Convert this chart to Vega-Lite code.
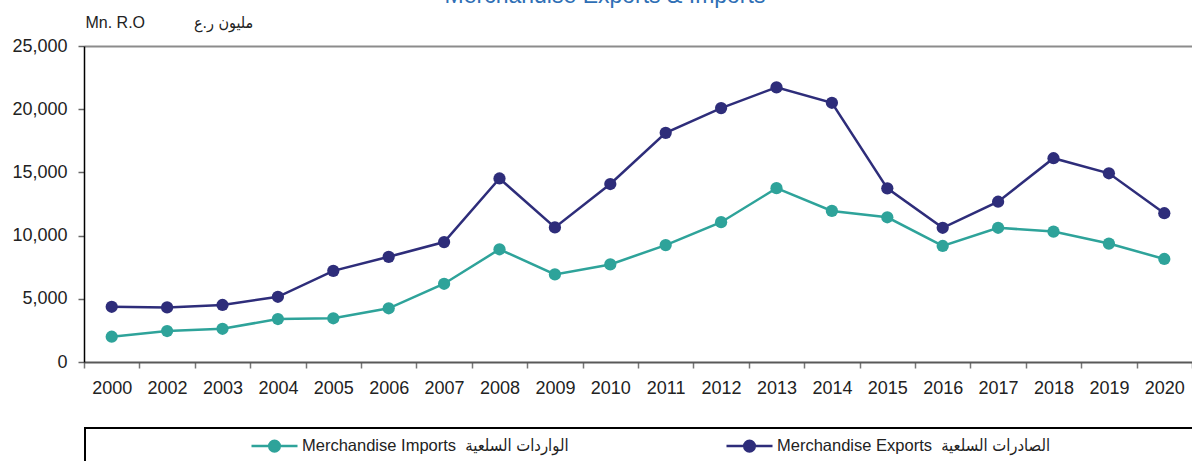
{
  "$schema": "https://vega.github.io/schema/vega-lite/v6.json",
  "width": 1108,
  "height": 316,
  "autosize": {"type": "none"},
  "padding": {"left": 84, "top": 46, "right": 0, "bottom": 99},
  "background": "white",
  "title": {
    "text": "Merchandise Exports & Imports",
    "color": "#2f6fb5",
    "font": "Liberation Sans",
    "fontSize": 23,
    "fontWeight": "normal",
    "anchor": "middle",
    "baseline": "alphabetic",
    "offset": 0,
    "dx": -33,
    "dy": 12
  },
  "config": {
    "view": {"stroke": null},
    "axis": {
      "labelFont": "Liberation Sans",
      "labelFontSize": 18,
      "labelColor": "#222222",
      "titleFont": "Liberation Sans, DejaVu Sans Condensed"
    }
  },
  "data": {
    "values": [
      {"year": "2000", "series": "Merchandise Exports", "value": 4370},
      {"year": "2002", "series": "Merchandise Exports", "value": 4320},
      {"year": "2003", "series": "Merchandise Exports", "value": 4510},
      {"year": "2004", "series": "Merchandise Exports", "value": 5160},
      {"year": "2005", "series": "Merchandise Exports", "value": 7210},
      {"year": "2006", "series": "Merchandise Exports", "value": 8320},
      {"year": "2007", "series": "Merchandise Exports", "value": 9490},
      {"year": "2008", "series": "Merchandise Exports", "value": 14520},
      {"year": "2009", "series": "Merchandise Exports", "value": 10650},
      {"year": "2010", "series": "Merchandise Exports", "value": 14080},
      {"year": "2011", "series": "Merchandise Exports", "value": 18130},
      {"year": "2012", "series": "Merchandise Exports", "value": 20090},
      {"year": "2013", "series": "Merchandise Exports", "value": 21730},
      {"year": "2014", "series": "Merchandise Exports", "value": 20510},
      {"year": "2015", "series": "Merchandise Exports", "value": 13740},
      {"year": "2016", "series": "Merchandise Exports", "value": 10620},
      {"year": "2017", "series": "Merchandise Exports", "value": 12680},
      {"year": "2018", "series": "Merchandise Exports", "value": 16120},
      {"year": "2019", "series": "Merchandise Exports", "value": 14930},
      {"year": "2020", "series": "Merchandise Exports", "value": 11770},
      {"year": "2000", "series": "Merchandise Imports", "value": 2000},
      {"year": "2002", "series": "Merchandise Imports", "value": 2450},
      {"year": "2003", "series": "Merchandise Imports", "value": 2630},
      {"year": "2004", "series": "Merchandise Imports", "value": 3400},
      {"year": "2005", "series": "Merchandise Imports", "value": 3460},
      {"year": "2006", "series": "Merchandise Imports", "value": 4250},
      {"year": "2007", "series": "Merchandise Imports", "value": 6190},
      {"year": "2008", "series": "Merchandise Imports", "value": 8920},
      {"year": "2009", "series": "Merchandise Imports", "value": 6930},
      {"year": "2010", "series": "Merchandise Imports", "value": 7720},
      {"year": "2011", "series": "Merchandise Imports", "value": 9250},
      {"year": "2012", "series": "Merchandise Imports", "value": 11060},
      {"year": "2013", "series": "Merchandise Imports", "value": 13750},
      {"year": "2014", "series": "Merchandise Imports", "value": 11950},
      {"year": "2015", "series": "Merchandise Imports", "value": 11450},
      {"year": "2016", "series": "Merchandise Imports", "value": 9180},
      {"year": "2017", "series": "Merchandise Imports", "value": 10620},
      {"year": "2018", "series": "Merchandise Imports", "value": 10320},
      {"year": "2019", "series": "Merchandise Imports", "value": 9370},
      {"year": "2020", "series": "Merchandise Imports", "value": 8150}
    ]
  },
  "mark": {
    "type": "line",
    "strokeWidth": 2.5,
    "point": {"filled": true, "size": 150, "opacity": 1}
  },
  "encoding": {
    "x": {
      "field": "year",
      "type": "ordinal",
      "scale": {"type": "band", "paddingInner": 0, "paddingOuter": 0},
      "axis": {
        "title": null,
        "labelAngle": 0,
        "tickBand": "extent",
        "domainColor": "#595959",
        "domainWidth": 2,
        "tickColor": "#777777",
        "tickSize": 6,
        "tickWidth": 1.5,
        "labelPadding": 11
      }
    },
    "y": {
      "field": "value",
      "type": "quantitative",
      "scale": {"domain": [0, 25000], "nice": false},
      "axis": {
        "values": [0, 5000, 10000, 15000, 20000, 25000],
        "format": ",.0f",
        "title": "Mn. R.O\u00a0\u00a0\u00a0\u00a0\u00a0\u00a0\u00a0\u00a0\u00a0\u00a0 مليون ر.ع",
        "titleAngle": 0,
        "titleX": 1,
        "titleY": -19,
        "titleAlign": "left",
        "titleBaseline": "alphabetic",
        "titleFontSize": 16,
        "titleFontWeight": "normal",
        "titleColor": "#222222",
        "domainColor": "#000000",
        "domainWidth": 1.5,
        "tickColor": "#666666",
        "tickSize": 6,
        "tickWidth": 1.5,
        "labelPadding": 11,
        "grid": true,
        "gridColor": "#8c8c8c",
        "gridWidth": 2,
        "gridOpacity": {"condition": {"test": "datum.value === 25000", "value": 1}, "value": 0}
      }
    },
    "color": {
      "field": "series",
      "type": "nominal",
      "scale": {
        "domain": ["Merchandise Imports", "Merchandise Exports"],
        "range": ["#2ea39a", "#2e2d7a"]
      },
      "legend": {
        "orient": "none",
        "legendX": 1,
        "legendY": 382,
        "direction": "horizontal",
        "title": "\u00a0",
        "titleOrient": "right",
        "titlePadding": 200,
        "titleFontSize": 10,
        "fillColor": "white",
        "strokeColor": "#000000",
        "padding": 9.5,
        "columnPadding": -11,
        "symbolType": "M-3.286,0H3.286M0.757,0A0.757,0.757,0,1,1,-0.757,0A0.757,0.757,0,1,1,0.757,0Z",
        "symbolSize": 196,
        "symbolStrokeWidth": 2.5,
        "symbolOffset": 171.5,
        "labelFont": "Liberation Sans, DejaVu Sans Condensed",
        "labelFontSize": 16.5,
        "labelColor": "#222222",
        "labelOffset": 19,
        "labelLimit": 500,
        "labelExpr": "datum.label == 'Merchandise Imports' ? 'Merchandise Imports\u00a0 الواردات السلعية' : 'Merchandise Exports\u00a0 الصادرات السلعية'",
        "encode": {
          "legend": {"update": {"strokeWidth": {"value": 2}}},
          "symbols": {
            "update": {
              "fill": {"scale": "color", "field": "value"},
              "stroke": {"scale": "color", "field": "value"},
              "fillOpacity": {"value": 1},
              "opacity": {"value": 1}
            }
          }
        }
      }
    }
  }
}
